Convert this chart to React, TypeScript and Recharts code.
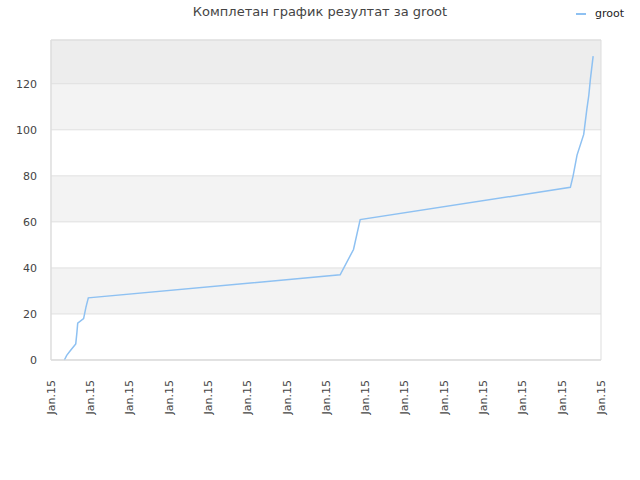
import React from 'react';
import {
  LineChart,
  Line,
  XAxis,
  YAxis,
  CartesianGrid,
  ReferenceArea,
} from 'recharts';

// --- Data ---

// position along the time axis (in tick steps) and the cumulative score
const positions = [
  0.34, 0.4, 0.49, 0.63, 0.66, 0.68, 0.83, 0.89, 0.95, 7.36, 7.7, 7.87, 13.22,
  13.29, 13.39, 13.56, 13.64, 13.69, 13.73, 13.8,
];
const scores = [
  0, 2, 4, 7, 12, 16, 18, 23, 27, 37, 48, 61, 75, 80, 89, 98, 109, 115, 122, 132,
];
const xTicks = [0, 1, 2, 3, 4, 5, 6, 7, 8, 9, 10, 11, 12, 13, 14];
const xTickLabels = xTicks.map(() => 'Jan.15');
const yTicks = [0, 20, 40, 60, 80, 100, 120];

const data = positions.map((p, i) => ({ t: p, score: scores[i] }));

const FONT = '"DejaVu Sans", Verdana, sans-serif';
const LINE_COLOR = '#8ec1f2';
// band fills from the top edge downwards
const BANDS = ['#ededed', '#f3f3f3', '#ffffff', '#f3f3f3', '#ffffff', '#f3f3f3', '#ffffff'];

// rotated tick label for the time axis
const DateTick = ({ x, y, index }: any) => (
  <text
    x={x}
    y={y + 12}
    transform={`rotate(-90, ${x}, ${y + 12})`}
    textAnchor="end"
    dy="0.35em"
    fontSize={11}
    fontFamily={FONT}
    fill="#444"
  >
    {xTickLabels[index]}
  </text>
);

const App: React.FC = () => {
  return (
    <div style={{ position: 'absolute', left: 0, top: 0, width: 640, height: 480, background: '#fff' }}>
      <div
        style={{
          position: 'absolute',
          top: 4,
          left: 0,
          width: 640,
          textAlign: 'center',
          fontFamily: FONT,
          fontSize: 13,
          color: '#444',
        }}
      >
        Комплетан график резултат за groot
      </div>
      <div
        style={{
          position: 'absolute',
          top: 7,
          left: 576,
          display: 'flex',
          alignItems: 'center',
          fontFamily: FONT,
          fontSize: 11,
          color: '#222',
        }}
      >
        <span style={{ display: 'inline-block', width: 10, height: 2, background: LINE_COLOR, marginRight: 9 }} />
        groot
      </div>
      <LineChart
        width={640}
        height={480}
        data={data}
        margin={{ top: 40, right: 39, left: 0, bottom: 70 }}
      >
        <CartesianGrid
          vertical={false}
          stroke="#e0e0e0"
          strokeDasharray=""
          horizontalFill={BANDS}
          fillOpacity={1}
        />
        <XAxis
          type="number"
          dataKey="t"
          domain={[0, 14]}
          ticks={xTicks}
          interval={0}
          height={50}
          tick={<DateTick />}
          tickLine={false}
          axisLine={{ stroke: '#dddddd' }}
        />
        <YAxis
          type="number"
          domain={[0, 139]}
          ticks={yTicks}
          width={51}
          tickLine={false}
          axisLine={{ stroke: '#dddddd' }}
          tick={{ fontSize: 11, fontFamily: FONT, fill: '#444' }}
          tickMargin={8}
        />
        <Line
          type="linear"
          dataKey="score"
          stroke={LINE_COLOR}
          strokeWidth={1.5}
          dot={false}
          isAnimationActive={false}
        />
        <ReferenceArea
          x1={0}
          x2={14}
          y1={0}
          y2={139}
          fill="none"
          stroke="#dddddd"
          strokeWidth={1}
        />
      </LineChart>
    </div>
  );
};

export default App;
